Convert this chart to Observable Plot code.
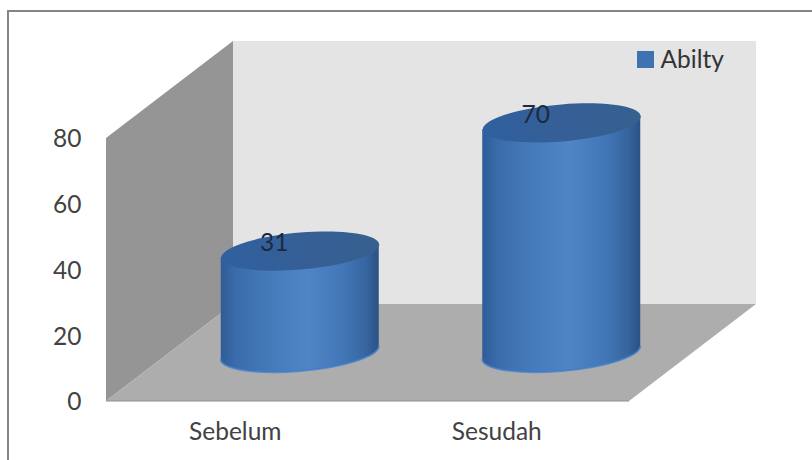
<!DOCTYPE html>
<html>
<head>
<meta charset="utf-8">
<script src="https://cdn.jsdelivr.net/npm/d3@7"></script>
<script src="https://cdn.jsdelivr.net/npm/@observablehq/plot@0.6"></script>
<style>
  html, body { margin: 0; padding: 0; background: #fff; }
  svg { display: block; }
</style>
</head>
<body>
<div id="chart"></div>
<script>
// Ability scores before and after
const stages = ["Sebelum", "Sesudah"];
const scores = [31, 70];
const yTicks = [0, 20, 40, 60, 80];
const seriesName = "Abilty";

const rows = stages.map((stage, i) => ({stage, score: scores[i]}));

// Oblique projection of the chart box
const depthX = 127;
const depthY = 97;
const barWidth = 158;
const rimRy = 18.5;  // half height of a cylinder cap
const rimTilt = 6.5; // vertical shear of a cap, in pixels
const K = 0.5523;

const centerDx = depthX / 2 - 0.5;
const centerDy = -depthY / 2;

// Sheared ellipse: unit-circle point (u, v) to cap coordinates
const cap = (u, v) => [(barWidth / 2) * u, rimRy * v - rimTilt * u];

const capSymbol = {
  draw(ctx) {
    const c = (a, b, d, e, f, g) => {
      const p = cap(a, b), q = cap(d, e), r = cap(f, g);
      ctx.bezierCurveTo(p[0], p[1], q[0], q[1], r[0], r[1]);
    };
    const s = cap(1, 0);
    ctx.moveTo(s[0], s[1]);
    c(1, K, K, 1, 0, 1);
    c(-K, 1, -1, K, -1, 0);
    c(-1, -K, -K, -1, 0, -1);
    c(K, -1, 1, -K, 1, 0);
    ctx.closePath();
  }
};

// Horizontal shading shared by the cylinder bodies and caps
function shading() {
  const defs = d3.create("svg:defs");
  const addGradient = (id, stops) => {
    const g = defs.append("linearGradient").attr("id", id)
      .attr("x1", 0).attr("x2", 1).attr("y1", 0).attr("y2", 0);
    stops.forEach(([o, c]) => g.append("stop").attr("offset", o).attr("stop-color", c));
  };
  addGradient("body", [
    [0, "#2f5c98"], [0.1, "#3b6cab"], [0.3, "#447ab9"], [0.55, "#4f85c5"],
    [0.78, "#4177b6"], [0.92, "#36659f"], [1, "#2a5285"]
  ]);
  addGradient("top", [[0, "#30609f"], [0.5, "#355f96"], [1, "#35608f"]]);
  return defs.node();
}

// Side wall, back wall, floor and the thin outer frame, placed from the scales
function box(index, {x, y}, values, {width, height, marginLeft, marginRight}) {
  const x0 = marginLeft, x1 = width - marginRight;
  const y0 = y(0), yMax = y(80);
  const g = d3.create("svg:g");
  const poly = (pts, fill) => g.append("polygon")
    .attr("points", pts.map(p => p.join(",")).join(" ")).attr("fill", fill);
  poly([[x0 + depthX, yMax - depthY], [x1 + depthX, yMax - depthY], [x1 + depthX, y0 - depthY], [x0 + depthX, y0 - depthY]], "#e4e4e4");
  poly([[x0, yMax], [x0 + depthX, yMax - depthY], [x0 + depthX, y0 - depthY], [x0, y0]], "#959595");
  poly([[x0, y0], [x0 + depthX, y0 - depthY], [x1 + depthX, y0 - depthY], [x1, y0]], "#adadad");
  g.append("line").attr("x1", x0).attr("x2", x1).attr("y1", y0).attr("y2", y0)
    .attr("stroke", "#8e8e8e").attr("stroke-width", 1);
  g.append("path").attr("d", `M8,${height}V11H${width}`)
    .attr("fill", "none").attr("stroke", "#858585").attr("stroke-width", 2);
  return g.node();
}

// Bar mark whose body is a cylinder wall instead of a rectangle
function cylinderBody(index, scales, values, dimensions) {
  const g = d3.create("svg:g");
  const {x, y1, y2} = values;
  const bandwidth = (dimensions.width - dimensions.marginLeft - dimensions.marginRight) / stages.length;
  for (const i of index) {
    const cx = x[i] + bandwidth / 2 + centerDx;
    const bottom = y1[i] + centerDy, top = y2[i] + centerDy;
    const pt = (u, v, base) => { const p = cap(u, v); return `${cx + p[0]},${base + p[1]}`; };
    const rim = `C${pt(-1, K, bottom)} ${pt(-K, 1, bottom)} ${pt(0, 1, bottom)}`
      + `C${pt(K, 1, bottom)} ${pt(1, K, bottom)} ${pt(1, 0, bottom)}`;
    g.append("path")
      .attr("fill", "url(#body)")
      .attr("d", `M${pt(-1, 0, top)}L${pt(-1, 0, bottom)}${rim}L${pt(1, 0, top)}Z`);
    // Brighter glint along the lower rim
    g.append("path")
      .attr("fill", "none")
      .attr("stroke", "#3f7ccb")
      .attr("stroke-width", 2)
      .attr("stroke-opacity", 0.75)
      .attr("d", `M${pt(-1, 0, bottom)}${rim}`);
  }
  return g.node();
}

const labelFont = {fontFamily: "Lato, sans-serif", fontSize: 24.5};

const plot = Plot.plot({
  width: 812,
  height: 460,
  marginLeft: 106,
  marginRight: 183,
  marginTop: 138,
  marginBottom: 59,
  style: {background: "transparent", fontFamily: "Lato, sans-serif"},
  x: {type: "band", domain: stages, padding: 0, round: false, label: null},
  y: {domain: [0, 80], label: null},
  marks: [
    shading,
    box,
    Plot.axisY({ticks: yTicks, tickSize: 0, tickPadding: 25, dy: 1, label: null, fill: "#424242", ...labelFont}),
    Plot.axisX({tickSize: 0, tickPadding: 21, dx: -2, label: null, fill: "#424242", ...labelFont}),
    Plot.barY(rows, {x: "stage", y: "score", render: cylinderBody}),
    Plot.dot(rows, {
      x: "stage", y: "score", symbol: capSymbol, r: 10,
      dx: centerDx, dy: centerDy, fill: "url(#top)", stroke: "none"
    }),
    Plot.text(rows, {
      x: "stage", y: "score", text: d => String(d.score),
      dx: centerDx - 26, dy: centerDy - 8, fill: "#1c2a3e", ...labelFont
    }),
    // Legend key and name inside the back wall
    Plot.dot([seriesName], {
      frameAnchor: "top-left", dx: 645 - 106, dy: 59 - 138,
      symbol: "square", r: 9.6, fill: "#3e72b0", stroke: "none"
    }),
    Plot.text([seriesName], {
      frameAnchor: "top-left", dx: 660 - 106, dy: 60 - 138,
      textAnchor: "start", lineAnchor: "middle", fill: "#333", ...labelFont
    })
  ]
});

document.getElementById("chart").append(plot);
</script>
</body>
</html>
